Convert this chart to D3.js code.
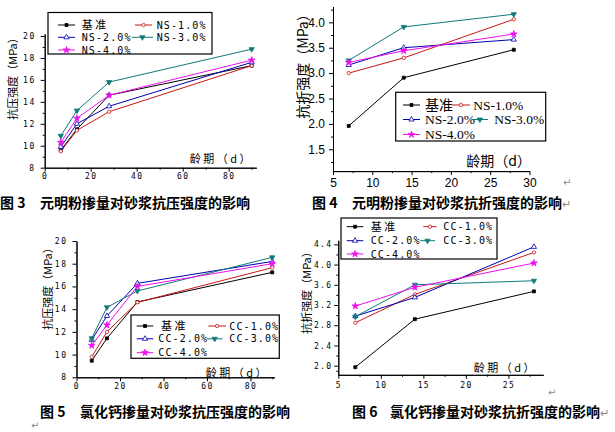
<!DOCTYPE html>
<html><head><meta charset="utf-8">
<script src="https://cdn.jsdelivr.net/npm/d3@7"></script>
<style>body{margin:0;background:#fff}svg{display:block}</style>
</head><body>
<svg id="c" width="615" height="432"></svg>
<script>
// ---------- data ----------
const daysLong = [7, 14, 28, 90];
const daysShort = [7, 14, 28];
const namesNS = ["基 准", "NS-1.0%", "NS-2.0%", "NS-3.0%", "NS-4.0%"];
const namesNS2 = ["基准", "NS-1.0%", "NS-2.0%", "NS-3.0%", "NS-4.0%"];
const namesCC = ["基 准", "CC-1.0%", "CC-2.0%", "CC-3.0%", "CC-4.0%"];

// Fig 3: 元明粉 compressive strength (MPa)
const fig3Base = [9.6, 11.5, 14.6, 17.3];
const fig3NS1 = [9.5, 11.4, 13.1, 17.3];
const fig3NS2 = [9.9, 12.0, 13.6, 17.6];
const fig3NS3 = [10.9, 13.2, 15.8, 18.8];
const fig3NS4 = [10.3, 12.5, 14.6, 17.8];

// Fig 4: 元明粉 flexural strength (MPa)
const fig4Base = [1.96, 2.91, 3.46];
const fig4NS1 = [3.0, 3.3, 4.06];
const fig4NS2 = [3.16, 3.5, 3.66];
const fig4NS3 = [3.25, 3.91, 4.16];
const fig4NS4 = [3.21, 3.44, 3.77];

// Fig 5: 氯化钙 compressive strength (MPa)
const fig5Base = [9.46, 11.43, 14.63, 17.24];
const fig5CC1 = [9.8, 12.0, 14.6, 17.65];
const fig5CC2 = [11.3, 13.4, 16.27, 18.2];
const fig5CC3 = [11.43, 14.16, 15.6, 18.56];
const fig5CC4 = [10.8, 12.6, 16.0, 18.0];

// Fig 6: 氯化钙 flexural strength (MPa)
const fig6Base = [1.97, 2.92, 3.47];
const fig6CC1 = [2.85, 3.41, 4.24];
const fig6CC2 = [2.98, 3.35, 4.35];
const fig6CC3 = [2.97, 3.6, 3.68];
const fig6CC4 = [3.18, 3.55, 4.03];

const ticksStrengthC = [8, 10, 12, 14, 16, 18, 20];
const ticksDaysLong = [0, 20, 40, 60, 80];
const ticksFlex4 = [1.5, 2.0, 2.5, 3.0, 3.5, 4.0];
const ticksDays4 = [5, 10, 15, 20, 25, 30];
const ticksFlex6 = [2.0, 2.4, 2.8, 3.2, 3.6, 4.0, 4.4];
const ticksDays6 = [5, 10, 15, 20, 25];

const colors = ["#000000", "#c81818", "#0000b0", "#0f7a7a", "#ee10ee"];

const svg = d3.select("#c");

function marker(sel, k, color, s) {
  const types = [d3.symbolSquare, d3.symbolCircle, d3.symbolTriangle, d3.symbolTriangle, d3.symbolStar];
  const sizes = [9, 9, 12, 12, 14].map(v => v * s);
  const fills = [color, "#fff", "#fff", color, color];
  return sel.attr("d", d3.symbol().type(types[k]).size(sizes[k])())
    .attr("fill", fills[k]).attr("stroke", color).attr("stroke-width", 0.8);
}

function drawPanel(cfg) {
  const g = svg.append("g");
  const x = d3.scaleLinear().domain(cfg.xDomain).range(cfg.xRange);
  const y = d3.scaleLinear().domain(cfg.yDomain).range(cfg.yRange);
  const y0 = cfg.yRange[0], x0 = cfg.xRange[0];

  // minor ticks
  g.append("g").attr("transform", `translate(0,${y0})`)
    .call(d3.axisBottom(x).tickValues(cfg.xMinor).tickSize(2).tickSizeOuter(0).tickFormat(""));
  g.append("g").attr("transform", `translate(${x0},0)`)
    .call(d3.axisLeft(y).tickValues(cfg.yMinor).tickSize(2).tickSizeOuter(0).tickFormat(""));
  // major
  const gx = g.append("g").attr("transform", `translate(0,${y0})`)
    .call(d3.axisBottom(x).tickValues(cfg.xTicks).tickSize(4).tickSizeOuter(0)
      .tickPadding(cfg.xPad).tickFormat(cfg.xFmt));
  const gy = g.append("g").attr("transform", `translate(${x0},0)`)
    .call(d3.axisLeft(y).tickValues(cfg.yTicks).tickSize(4).tickSizeOuter(0)
      .tickPadding(cfg.yPad).tickFormat(cfg.yFmt));
  g.selectAll(".domain, .tick line").attr("stroke", "#000").attr("stroke-width", 1);
  [gx, gy].forEach(a => a.selectAll("text")
    .attr("font-family", cfg.tickFont).attr("font-size", cfg.tickSize)
    .attr("letter-spacing", cfg.tickLS).attr("fill", "#000"));

  // series
  const line = d3.line().x(d => x(d[0])).y(d => y(d[1]));
  cfg.series.forEach((vals, k) => {
    const pts = cfg.days.map((d, i) => [d, vals[i]]);
    g.append("path").datum(pts).attr("d", line).attr("fill", "none")
      .attr("stroke", colors[k]).attr("stroke-width", 1);
  });
  cfg.series.forEach((vals, k) => {
    const pts = cfg.days.map((d, i) => [d, vals[i]]);
    g.selectAll(null).data(pts).join("path")
      .attr("transform", d => `translate(${x(d[0])},${y(d[1])})` + (k === 3 ? " rotate(180)" : ""))
      .call(sel => marker(sel, k, colors[k], 1));
  });

  // legend
  const L = cfg.legend;
  g.append("rect").attr("x", L.box[0]).attr("y", L.box[1])
    .attr("width", L.box[2] - L.box[0]).attr("height", L.box[3] - L.box[1])
    .attr("fill", "#fff").attr("stroke", "#000").attr("stroke-width", 1.2);
  L.items.forEach((it, k) => {
    g.append("line").attr("x1", it[0]).attr("x2", it[1]).attr("y1", it[3]).attr("y2", it[3])
      .attr("stroke", colors[k]).attr("stroke-width", 1);
    g.append("path").attr("transform", `translate(${(it[0] + it[1]) / 2},${it[3]})` + (k === 3 ? " rotate(180)" : ""))
      .call(sel => marker(sel, k, colors[k], 1));
    g.append("text").attr("x", it[2]).attr("y", it[3]).attr("dy", "0.35em")
      .attr("font-family", k === 0 ? L.cjkFont : L.font)
      .attr("font-size", k === 0 ? L.cjkSize : L.size)
      .attr("letter-spacing", k === 0 ? 0 : L.ls)
      .text(cfg.names[k]);
  });

  // axis titles
  g.append("text").attr("transform", `translate(${cfg.yTitle[0]},${cfg.yTitle[1]}) rotate(-90)`)
    .attr("text-anchor", "middle").attr("dy", "0.35em")
    .attr("font-family", "'Noto Sans CJK SC', sans-serif").attr("font-size", cfg.yTitle[2])
    .text("抗" + cfg.yTitleWord + "强度（MPa）");
  g.append("text").attr("x", cfg.xTitle[0]).attr("y", cfg.xTitle[1]).attr("dy", "0.35em")
    .attr("text-anchor", "end")
    .attr("font-family", "'Noto Sans CJK SC', sans-serif").attr("font-size", cfg.xTitle[2])
    .attr("letter-spacing", cfg.xTitle[3])
    .text("龄期（d）");
}

const pixFont = "'DejaVu Sans Mono', monospace";

drawPanel({
  days: daysLong, series: [fig3Base, fig3NS1, fig3NS2, fig3NS3, fig3NS4], names: namesNS,
  xDomain: [0, 92], xRange: [44.7, 256.3], yDomain: [8, 20.2], yRange: [167.7, 33.8],
  xTicks: ticksDaysLong, xMinor: [10, 30, 50, 70, 90], yTicks: ticksStrengthC,
  yMinor: [9, 11, 13, 15, 17, 19], xFmt: d3.format("d"), yFmt: d3.format("d"),
  xPad: 2, yPad: 5, tickFont: pixFont, tickSize: 8, tickLS: 1.5,
  legend: { box: [48, 12.5, 212, 54], font: pixFont, size: 10, ls: 1.1,
    cjkFont: "'Noto Sans CJK SC', sans-serif", cjkSize: 11,
    items: [[58, 75, 81.7, 25], [135, 152, 156.7, 25], [58, 75, 81.7, 37.3], [131.7, 153, 156.7, 37.3], [58, 75, 81.7, 50]] },
  yTitle: [13, 76, 11], yTitleWord: "压", xTitle: [253, 159, 11, 2.5]
});

drawPanel({
  days: daysShort, series: [fig4Base, fig4NS1, fig4NS2, fig4NS3, fig4NS4], names: namesNS2,
  xDomain: [5, 30], xRange: [333, 529.5], yDomain: [1.07, 4.31], yRange: [171.1, 6.6],
  xTicks: ticksDays4, xMinor: [7.5, 12.5, 17.5, 22.5, 27.5], yTicks: ticksFlex4,
  yMinor: [1.25, 1.75, 2.25, 2.75, 3.25, 3.75, 4.25], xFmt: d3.format("d"), yFmt: d3.format(".1f"),
  xPad: 3, yPad: 4, tickFont: "'Liberation Sans', Arial, sans-serif", tickSize: 12, tickLS: 0,
  legend: { box: [395.7, 92.3, 545.7, 141], font: "'Liberation Serif', serif", size: 13.5, ls: 0,
    cjkFont: "'Noto Sans CJK SC', sans-serif", cjkSize: 14,
    items: [[403, 420, 425, 105], [451.7, 470, 473.3, 105], [403, 420, 425, 119.5], [471.7, 488, 494.3, 119.5], [403, 420, 425, 134.5]] },
  yTitle: [303, 63, 14], yTitleWord: "折", xTitle: [531, 161, 14, 0]
});

drawPanel({
  days: daysLong, series: [fig5Base, fig5CC1, fig5CC2, fig5CC3, fig5CC4], names: namesCC,
  xDomain: [0, 91], xRange: [76.5, 274.4], yDomain: [8, 20], yRange: [377.3, 241],
  xTicks: ticksDaysLong, xMinor: [10, 30, 50, 70, 90], yTicks: ticksStrengthC,
  yMinor: [9, 11, 13, 15, 17, 19], xFmt: d3.format("d"), yFmt: d3.format("d"),
  xPad: 2, yPad: 5, tickFont: pixFont, tickSize: 8, tickLS: 1.5,
  legend: { box: [131, 315, 279.3, 358.3], font: pixFont, size: 10, ls: 1.1,
    cjkFont: "'Noto Sans CJK SC', sans-serif", cjkSize: 11,
    items: [[136.7, 153.3, 161, 326], [208.3, 226, 229.3, 326], [136.7, 153.3, 158.3, 338.8], [206.7, 222.7, 229.3, 338.8], [136.7, 153.3, 158.3, 352.7]] },
  yTitle: [48, 286, 11], yTitleWord: "压", xTitle: [269, 373, 11, 2.5]
});

drawPanel({
  days: daysShort, series: [fig6Base, fig6CC1, fig6CC2, fig6CC3, fig6CC4], names: namesCC,
  xDomain: [5, 29.1], xRange: [338.3, 543.3], yDomain: [1.82, 4.48], yRange: [374.8, 240.3],
  xTicks: ticksDays6, xMinor: [7.5, 12.5, 17.5, 22.5, 27.5], yTicks: ticksFlex6,
  yMinor: [1.9, 2.2, 2.6, 3.0, 3.4, 3.8, 4.2], xFmt: d3.format("d"), yFmt: d3.format(".1f"),
  xPad: 4, yPad: 2, tickFont: pixFont, tickSize: 8, tickLS: 1.3,
  legend: { box: [341, 218, 497, 259], font: pixFont, size: 10, ls: 1.1,
    cjkFont: "'Noto Sans CJK SC', sans-serif", cjkSize: 11,
    items: [[346.7, 363.3, 370.7, 226.7], [423.3, 436.7, 443.3, 226.7], [346.7, 363.3, 370.7, 240.7], [420, 435, 443.3, 240.7], [346.7, 363.3, 370.7, 254]] },
  yTitle: [307, 290, 11], yTitleWord: "折", xTitle: [537, 368, 11, 2.5]
});

// captions
const capFont = "'Noto Sans CJK SC', sans-serif";
const captions = [
  ["图 3", 0, 40, 203, "元明粉掺量对砂浆抗压强度的影响", false],
  ["图 4", 312, 352, 203, "元明粉掺量对砂浆抗折强度的影响", true],
  ["图 5", 40, 80, 412, "氯化钙掺量对砂浆抗压强度的影响", false],
  ["图 6", 352, 390, 412, "氯化钙掺量对砂浆抗折强度的影响", true]
];
captions.forEach(c => {
  svg.append("text").attr("x", c[1]).attr("y", c[3]).attr("dy", "0.36em")
    .attr("font-family", capFont).attr("font-weight", "bold").attr("font-size", 14).text(c[0]);
  const t = svg.append("text").attr("x", c[2]).attr("y", c[3]).attr("dy", "0.36em")
    .attr("font-family", capFont).attr("font-weight", "bold").attr("font-size", 14).text(c[4]);
  if (c[5]) t.append("tspan").attr("font-weight", "normal").attr("fill", "#888").attr("font-size", 11).text("↵");
});
[[563, 182], [548, 392], [31, 425]].forEach(p => {
  svg.append("text").attr("x", p[0]).attr("y", p[1]).attr("dy", "0.35em")
    .attr("font-size", 10).attr("fill", "#888").attr("font-family", "'DejaVu Sans', sans-serif").text("↵");
});
</script>
</body></html>
